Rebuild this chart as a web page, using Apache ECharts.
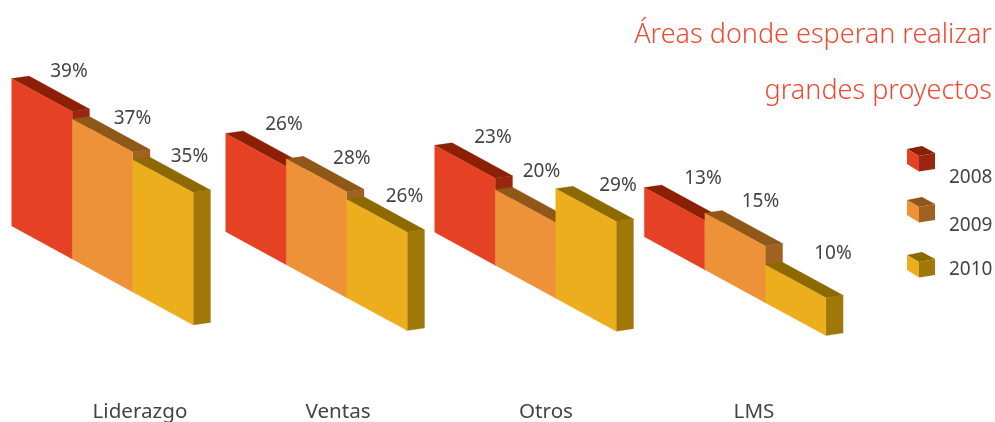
<!DOCTYPE html>
<html><head><meta charset="utf-8">
<style>html,body{margin:0;padding:0;background:#fff}#c{width:995px;height:422px}</style>
<script src="https://cdn.jsdelivr.net/npm/echarts@6/dist/echarts.min.js"></script>
</head><body><div id="c"></div>
<script>
const categories = ['Liderazgo','Ventas','Otros','LMS'];
const years = ['2008','2009','2010'];
const values2008 = [39,26,23,13];
const values2009 = [37,28,20,15];
const values2010 = [35,26,29,10];

// layout (not data)
const groupLeft = [11.7,225.7,434.7,644.3];
const groupDrop = [0,5.7,6.3,10.7];
const categoryLabelX = [140,338,546,754];
const labelNudge = [
 [[57.3,-7],[58.3,-8.8],[58.3,-7.8],[58.7,-9]],
 [[60.3,-1],[65.6,-0.6],[46.3,-18.5],[55.7,-11.8]],
 [[56.8,-2.7],[57.8,-2.4],[62.3,-2.9],[67.7,-11.1]]
];
const barW = 60.5, slope = 0.545, depthX = 17.3, depthY = -2.5;
const front = ['#E54125','#EE923A','#ECAE1C'];
const topC  = ['#8C2004','#8F5718','#8C6A00'];
const sideC = ['#9B2610','#A06220','#A0780A'];
const textColor = '#444';
const font = '"Noto Sans"';

function poly(points, fill){ return {type:'polygon',shape:{points},style:{fill,stroke:fill,lineWidth:0.3}}; }

function renderer(si){
  return function(params, api){
    const g = api.value(0), v = api.value(1);
    const x0 = groupLeft[g] + si*barW, x1 = x0 + barW;
    const tl = api.coord([x0, v]), tr = api.coord([x1, v]);
    const bl = api.coord([x0, 0]), br = api.coord([x1, 0]);
    const off = x => groupDrop[g] + slope*(x - groupLeft[g]);
    const A=[tl[0],tl[1]+off(x0)], B=[tr[0],tr[1]+off(x1)], C=[br[0],br[1]+off(x1)], D=[bl[0],bl[1]+off(x0)];
    const up = p => [p[0]+depthX,p[1]+depthY];
    const n = labelNudge[si][g];
    return {type:'group',children:[
      poly([B,up(B),up(C),C], sideC[si]),
      poly([A,up(A),up(B),B], topC[si]),
      poly([A,B,C,D], front[si]),
      {type:'text',z2:20,style:{text:v+'%',x:A[0]+n[0],y:A[1]+n[1],align:'center',verticalAlign:'middle',
        fill:textColor,fontSize:19,fontFamily:font}}
    ]};
  };
}
const seriesValues = [values2008,values2009,values2010];

function cube(x,y,si){
  const p = a => a.map(q=>[x+q[0],y+q[1]]);
  return [
    {type:'polygon',shape:{points:p([[0,3],[15,0],[28,7],[12,10]])},style:{fill:topC[si]}},
    {type:'polygon',shape:{points:p([[12,10],[28,7],[28,23],[12,25.5]])},style:{fill:sideC[si]}},
    {type:'polygon',shape:{points:p([[0,3],[12,10],[12,25.5],[0,18]])},style:{fill:front[si]}}
  ];
}
const legendY = [146,197,252], legendTextY=[178,226,270];
const graphics = [];
years.forEach((y,i)=>{
  graphics.push(...cube(907,legendY[i],i));
  graphics.push({type:'text',style:{text:y,x:949,y:legendTextY[i],verticalAlign:'middle',fill:textColor,fontSize:19,fontFamily:font}});
});

const chart = echarts.init(document.getElementById('c'),null,{renderer:'canvas'});
chart.setOption({
  animation:false,
  backgroundColor:'#fff',
  title:{text:'Áreas donde esperan realizar\ngrandes proyectos',left:992,top:7,padding:0,textAlign:'right',
    textStyle:{color:'#EE4A33',fontSize:27,fontWeight:300,fontFamily:font,lineHeight:56,align:'right'}},
  graphic:graphics,
  grid:{left:0,right:0,top:37,bottom:196,outerBoundsMode:'none',containLabel:false},
  xAxis:{type:'value',min:0,max:995,splitLine:{show:false},axisLine:{show:false},axisTick:{show:false},
    axisLabel:{customValues:categoryLabelX,margin:176,color:textColor,fontSize:20.6,fontFamily:font,
      formatter:v=>categories[categoryLabelX.indexOf(v)]}},
  yAxis:{type:'value',min:0,max:50,show:false},
  series:seriesValues.map((vals,si)=>({
    type:'custom',name:years[si],coordinateSystem:'cartesian2d',
    renderItem:renderer(si),
    data:vals.map((v,g)=>[g,v]),
    encode:{x:0,y:1},z:si+2
  }))
});
</script></body></html>
